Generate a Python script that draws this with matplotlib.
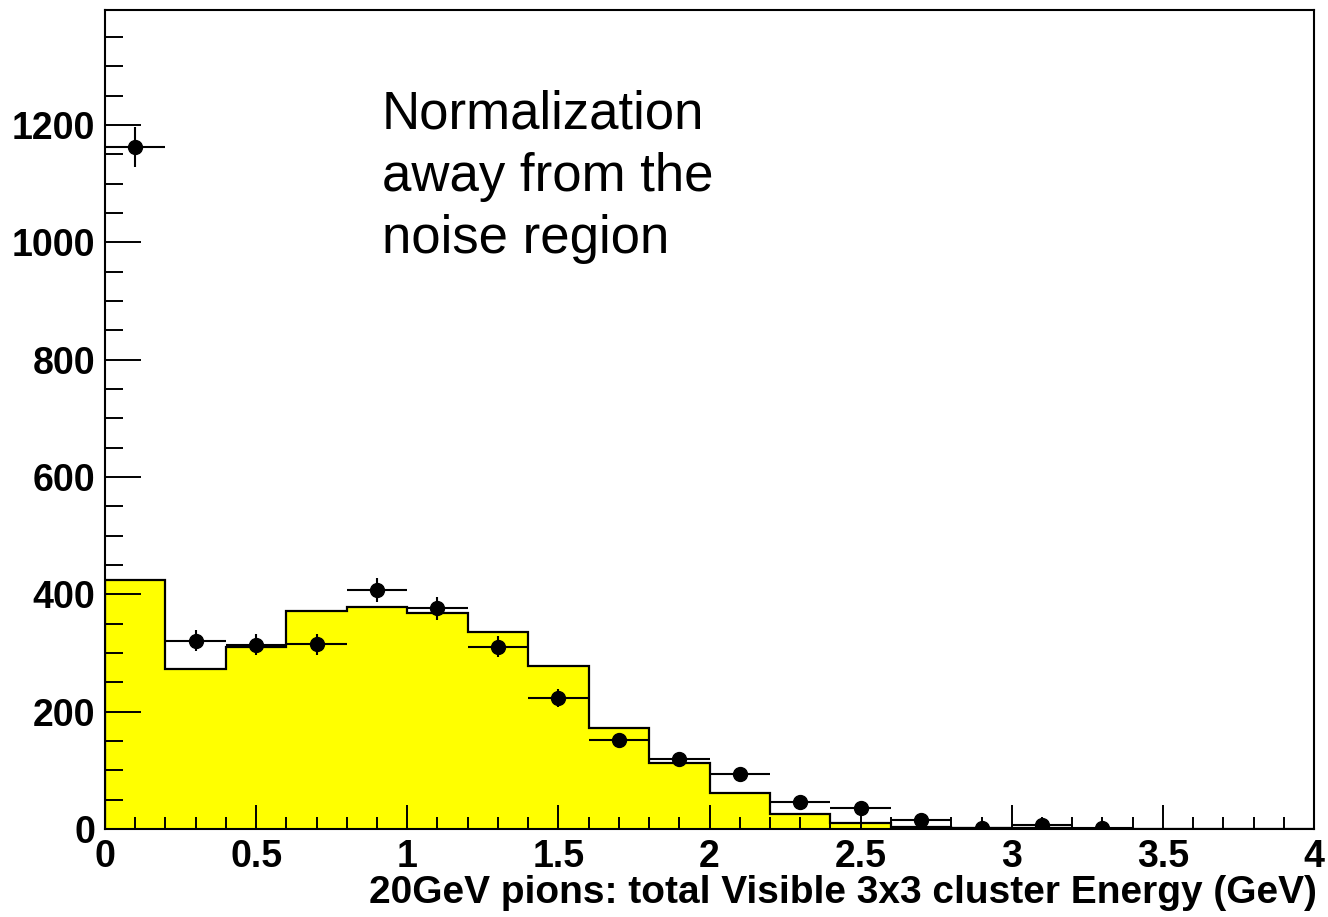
import numpy as np
import matplotlib
matplotlib.use("Agg")
import matplotlib.pyplot as plt
from matplotlib.ticker import MultipleLocator

plt.rcParams['font.family'] = ['Liberation Sans', 'DejaVu Sans']

# simulated shape, 0.2 GeV bins from 0 to 4
edges = np.arange(0, 4.01, 0.2)
mc = [424, 273, 311, 371, 379, 369, 335, 277, 173, 112,
      62, 25, 10, 3, 1, 1, 0, 0, 0, 0]

# data points at bin centres, with their statistical errors
x_data = [0.1, 0.3, 0.5, 0.7, 0.9, 1.1, 1.3, 1.5, 1.7, 1.9,
          2.1, 2.3, 2.5, 2.7, 2.9, 3.1, 3.3]
y_data = [1163, 321, 314, 315, 407, 376, 311, 223, 152, 120,
          93, 46, 35, 16, 2, 6, 1]
y_err = [34, 18, 18, 18, 20, 19, 18, 15, 12, 11,
         10, 7, 6, 4, 1.4, 2.4, 1]
x_err = 0.1

fig = plt.figure(figsize=(13.28, 9.17), dpi=100)
ax = fig.add_axes([105/1328, 88/917, 1209/1328, 819/917])

ax.stairs(mc, edges, fill=True, color='#ffff00', zorder=1)
ax.stairs(mc, edges, color='black', linewidth=1.6, zorder=2)

ax.errorbar(x_data, y_data, xerr=x_err, yerr=y_err, fmt='o', color='black',
            markersize=10, elinewidth=1.5, capsize=0, zorder=3)

ax.set_xlim(0, 4)
ax.set_ylim(0, 1396)

ax.xaxis.set_major_locator(MultipleLocator(0.5))
ax.xaxis.set_minor_locator(MultipleLocator(0.1))
ax.yaxis.set_major_locator(MultipleLocator(200))
ax.yaxis.set_minor_locator(MultipleLocator(50))
ax.xaxis.set_major_formatter(plt.FuncFormatter(lambda v, p: f"{v:g}"))
ax.yaxis.set_major_formatter(plt.FuncFormatter(lambda v, p: f"{v:g}"))

ax.tick_params(axis='both', which='both', direction='in', width=1.4,
               top=False, right=False, labelsize=27)
ax.tick_params(axis='x', which='major', length=17.3, pad=7)
ax.tick_params(axis='x', which='minor', length=8.6)
ax.tick_params(axis='y', which='major', length=26, pad=7)
ax.tick_params(axis='y', which='minor', length=13)
for lab in ax.get_xticklabels() + ax.get_yticklabels():
    lab.set_fontweight('bold')

for sp in ax.spines.values():
    sp.set_linewidth(1.5)

ax.set_xlabel("20GeV pions: total Visible 3x3 cluster Energy (GeV)",
              fontsize=28, fontweight='bold', loc='right')
ax.xaxis.set_label_coords(1.002, -0.056)

ax.text(0.229, 0.903, "Normalization\naway from the\nnoise region",
        transform=ax.transAxes, fontsize=38, va='top', ha='left',
        linespacing=1.32)

fig.savefig("out.png", dpi=100)
